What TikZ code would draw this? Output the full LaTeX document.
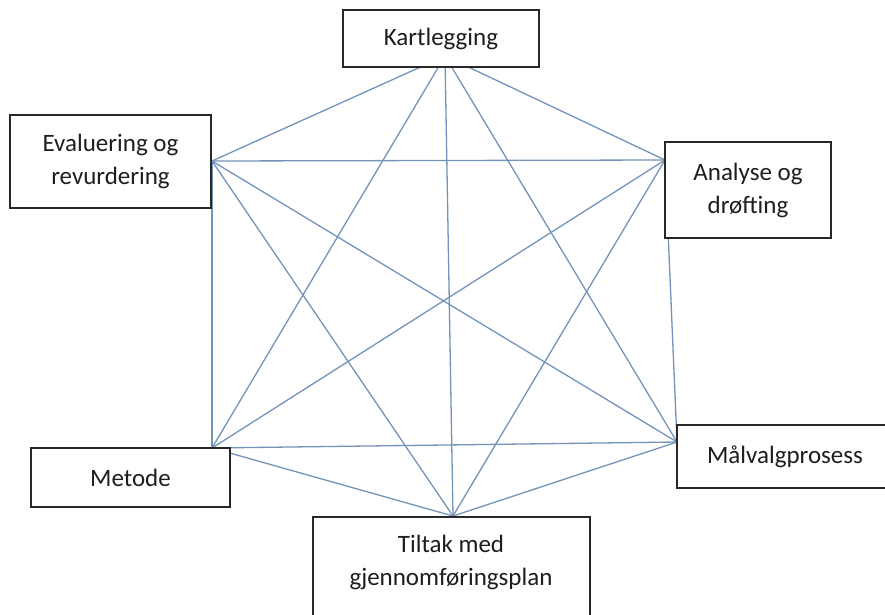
\documentclass[tikz,border=0pt]{standalone}
\usepackage{fontspec}
\setmainfont{Carlito}
\definecolor{edgeblue}{RGB}{115,148,184}
\definecolor{boxline}{RGB}{40,40,40}
\definecolor{txt}{RGB}{30,30,30}
\begin{document}
\begin{tikzpicture}[x=1pt,y=-1pt,
  conn/.style={draw=edgeblue,line width=1.3pt},
  stepbox/.style={draw=boxline,line width=1.4pt,fill=white,rectangle,inner sep=0pt,
    text=txt,align=center,font=\fontsize{25}{33}\selectfont},
  lbl/.style={text=txt,align=center,inner sep=0pt,font=\fontsize{25}{33}\selectfont}]
\useasboundingbox (0,0) rectangle (885,614);
% hub points
\coordinate (hK) at (445,56);
\coordinate (hE) at (212,161);
\coordinate (hA) at (665,160);
\coordinate (hM) at (212,448);
\coordinate (hV) at (677,442);
\coordinate (hT) at (453,516);
% connectors (complete graph)
\foreach \a/\b in {hK/hE,hK/hA,hK/hM,hK/hV,hK/hT,
                   hE/hA,hE/hM,hE/hV,hE/hT,
                   hA/hM,hA/hV,hA/hT,
                   hM/hV,hM/hT,
                   hV/hT}
  \draw[conn] (\a) -- (\b);
% boxes
\node[stepbox,minimum width=196pt,minimum height=57pt] (K) at (441,38.5) {Kartlegging};
\node[stepbox,minimum width=201pt,minimum height=93pt] (E) at (110.5,161.5) {Evaluering og\\revurdering};
\node[stepbox,minimum width=166pt,minimum height=96pt] (A) at (748,190) {Analyse og\\drøfting};
\node[stepbox,minimum width=199pt,minimum height=59pt] (M) at (130.5,477.5) {Metode};
\node[stepbox,minimum width=216pt,minimum height=63pt] (V) at (785,456.5) {Målvalgprosess};
\node[stepbox,minimum width=277pt,minimum height=122pt] (T) at (451.5,578) {};
\node[lbl] (tT) at (451,562) {Tiltak med\\gjennomføringsplan};
\end{tikzpicture}
\end{document}
